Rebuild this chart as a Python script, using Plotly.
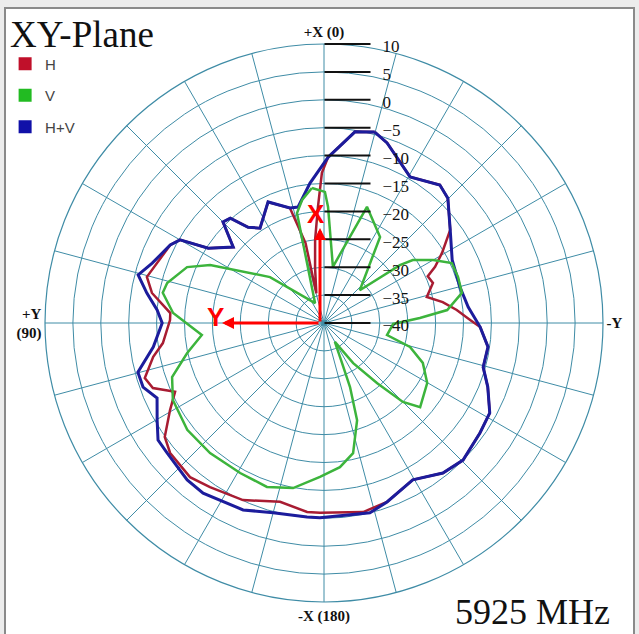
import plotly.graph_objects as go

# angles in degrees (0 = +X at top, counter-clockwise), gain in dB
THETA_HV = [345.1, 350.8, 358.6, 5.7, 12.6, 16.5, 24.8, 34.0, 38.4, 41.8, 45.0, 50.1, 57.1, 60.0,
            63.1, 70.8, 75.5, 80.4, 85.5, 90.0, 98.0, 104.8, 109.5, 114.2, 120.2, 125.2, 129.6,
            138.9, 144.6, 156.6, 165.0, 175.0, 178.8, 193.6, 199.4, 209.5, 218.4, 225.4, 234.8,
            241.5, 248.7, 254.5, 261.7, 268.5, 276.3, 284.8, 296.2, 306.4, 315.2, 320.0, 329.5,
            340.7, 345.1]
R_HV = [-4.6, -5.3, -10.3, -14.8, -18.7, -18.5, -16.1, -19.5, -18.1, -14.8, -14.4, -18.8, -15.3, -10.2,
        -9.1, -7.4, -5.6, -7.8, -10.0, -11.0, -9.1, -5.5, -5.6, -7.2, -5.4, -3.6, -3.5,
        -2.7, -2.6, -3.5, -4.8, -5.1, -5.1, -5.0, -6.0, -7.7, -5.7, -5.0, -5.8,
        -6.2, -8.5, -10.4, -10.3, -12.0, -14.0, -14.8, -14.4, -11.9, -8.5, -7.7, -9.6,
        -5.8, -4.6]

THETA_H = [345.1, 350.8, 358.6, 0.8, 3.0, 6.1, 9.2, 14.5, 13.0, 16.5, 24.8, 34.0, 38.4, 41.8, 45.0,
           50.1, 57.1, 60.0, 63.1, 75.4, 80.1, 86.3, 88.9, 97.1, 101.2, 107.1, 110.8, 114.8, 119.5,
           125.6, 130.2, 139.0, 145.2, 155.4, 166.2, 174.9, 178.8, 191.7, 199.4, 209.5, 218.4,
           225.4, 234.8, 241.5, 248.7, 254.5, 261.7, 268.5, 271.2, 275.6, 280.0, 284.2, 290.2,
           294.3, 296.8, 300.7, 306.4, 315.2, 320.0, 329.5, 340.7, 345.1]
R_H = [-4.6, -5.3, -10.3, -13.1, -19.2, -25.0, -30.0, -34.5, -25.3, -18.5, -16.1, -19.5, -18.1, -14.8, -14.4,
       -18.8, -15.3, -10.2, -9.1, -7.2, -8.7, -12.4, -12.4, -10.9, -8.8, -6.4, -7.2, -10.6, -8.3,
       -4.9, -3.9, -3.4, -4.2, -5.1, -7.0, -6.0, -6.0, -5.4, -6.0, -7.7, -5.7,
       -5.0, -5.8, -6.2, -8.5, -10.4, -10.3, -12.0, -13.8, -16.1, -18.4, -21.0, -19.2,
       -19.6, -17.7, -15.4, -11.9, -8.5, -7.7, -9.6, -5.8, -4.6]

THETA_V = [5.1, 359.6, 358.0, 351.0, 339.7, 326.9, 312.5, 307.3, 305.3, 300.0, 295.1, 288.9, 282.3,
           276.0, 273.0, 269.2, 259.2, 254.4, 248.0, 239.8, 228.8, 225.0, 221.5, 216.0, 210.0,
           204.2, 202.1, 198.8, 192.6, 186.3, 178.5, 169.4, 160.8, 150.8, 138.8, 128.0, 117.0,
           109.6, 102.4, 95.6, 86.2, 79.4, 75.7, 67.8, 63.0, 49.6, 24.2, 13.8, 10.1, 5.1]
R_V = [-15.7, -16.5, -19.2, -29.8, -17.8, -21.6, -31.3, -22.9, -20.5, -17.4, -14.7, -14.6, -14.7,
       -17.8, -22.8, -27.6, -28.5, -24.0, -20.9, -18.6, -17.1, -20.0, -25.6, -31.1, -36.1,
       -32.1, -27.6, -21.6, -16.1, -14.0, -12.4, -9.9, -8.9, -9.2, -9.0, -8.9, -9.6,
       -11.1, -14.9, -18.0, -12.9, -10.6, -11.0, -13.5, -17.1, -27.3, -36.1, -19.7, -17.6, -15.7]

RADIAL_TICKS = [-40, -35, -30, -25, -20, -15, -10, -5, 0, 5, 10]
ANGLE_TICKS = list(range(0, 360, 15))
ANGLE_TEXT = {0: "+X (0)", 90: "+Y<br>(90)", 180: "-X (180)", 270: "-Y"}

RED = "#a81c32"
GREEN = "#3cb43c"
BLUE = "#1c1c9c"
GRID = "#3f8ca6"

W, H = 639, 634
cx, cy = 324, 323

fig = go.Figure()
fig.add_trace(go.Scatterpolar(r=R_H, theta=THETA_H, mode="lines", line=dict(color=RED, width=2.5),
                              showlegend=False))
fig.add_trace(go.Scatterpolar(r=R_HV, theta=THETA_HV, mode="lines", line=dict(color=BLUE, width=3),
                              showlegend=False))
fig.add_trace(go.Scatterpolar(r=R_V, theta=THETA_V, mode="lines", line=dict(color=GREEN, width=2.5),
                              showlegend=False))

# legend entries drawn as squares
for name, col in [("H", "#c0102a"), ("V", "#22bb22"), ("H+V", "#1010a8")]:
    fig.add_trace(go.Scatterpolar(r=[None], theta=[None], mode="markers", name=name,
                                  legendgroup=name,
                                  marker=dict(symbol="square", size=13, color=col)))

fig.update_layout(
    width=W, height=H,
    margin=dict(l=0, r=0, t=0, b=0),
    paper_bgcolor="#ececec",
    showlegend=True,
    legend=dict(x=0.008, y=0.925, xanchor="left", yanchor="top", bgcolor="rgba(0,0,0,0)",
                font=dict(family="Liberation Sans", size=15, color="#444"),
                tracegroupgap=9, itemwidth=30),
    polar=dict(
        domain=dict(x=[(cx - 279) / W, (cx + 279) / W], y=[(H - cy - 279) / H, (H - cy + 279) / H]),
        bgcolor="white",
        radialaxis=dict(range=[-40, 10], tickvals=RADIAL_TICKS, angle=90, side="clockwise",
                        showline=False, gridcolor=GRID, gridwidth=1,
                        ticks="outside", ticklen=46, tickcolor="#111", tickwidth=1.5,
                        tickfont=dict(family="Liberation Serif", size=17, color="#111")),
        angularaxis=dict(rotation=90, direction="counterclockwise", tickvals=ANGLE_TICKS,
                         ticktext=[ANGLE_TEXT.get(a, "") for a in ANGLE_TICKS],
                         ticks="", showline=True, linecolor=GRID, linewidth=1.2,
                         gridcolor=GRID, gridwidth=1,
                         tickfont=dict(family="Liberation Serif", size=15, color="#111",
                                       weight="bold")),
    ),
    shapes=[dict(type="rect", xref="paper", yref="paper", x0=5 / W, x1=634 / W, y0=-0.01, y1=(H - 8) / H,
                 fillcolor="white", line=dict(color="#8a8a8a", width=2), layer="below")],
)

# title and frequency label
fig.add_annotation(text="XY-Plane", xref="paper", yref="paper", x=8 / W, y=1 - 35 / H,
                   xanchor="left", yanchor="middle", showarrow=False,
                   font=dict(family="Liberation Serif", size=37, color="#111"))
fig.add_annotation(text="5925 MHz", xref="paper", yref="paper", x=612 / W, y=1 - 612 / H,
                   xanchor="right", yanchor="middle", showarrow=False,
                   font=dict(family="Liberation Serif", size=36, color="#111"))

# red axis arrows
ox, oy = 320, 323
fig.add_annotation(text="", xref="paper", yref="paper", x=ox / W, y=1 - 228 / H, ax=0, ay=95,
                   showarrow=True, arrowhead=2, arrowsize=0.8, arrowwidth=3, arrowcolor="#ff0000")
fig.add_annotation(text="", xref="paper", yref="paper", x=222 / W, y=1 - oy / H, ax=98, ay=0,
                   showarrow=True, arrowhead=2, arrowsize=0.8, arrowwidth=3, arrowcolor="#ff0000")
fig.add_annotation(text="<b>X</b>", xref="paper", yref="paper", x=316 / W, y=1 - 197 / H,
                   showarrow=False, font=dict(family="Liberation Sans", size=26, color="#ff0000"))
fig.add_annotation(text="<b>Y</b>", xref="paper", yref="paper", x=205 / W, y=1 - 317 / H,
                   showarrow=False, font=dict(family="Liberation Sans", size=26, color="#ff0000"))

fig.write_html("out.html", config={"displayModeBar": False},
               post_script="document.body.style.margin='0px';")
